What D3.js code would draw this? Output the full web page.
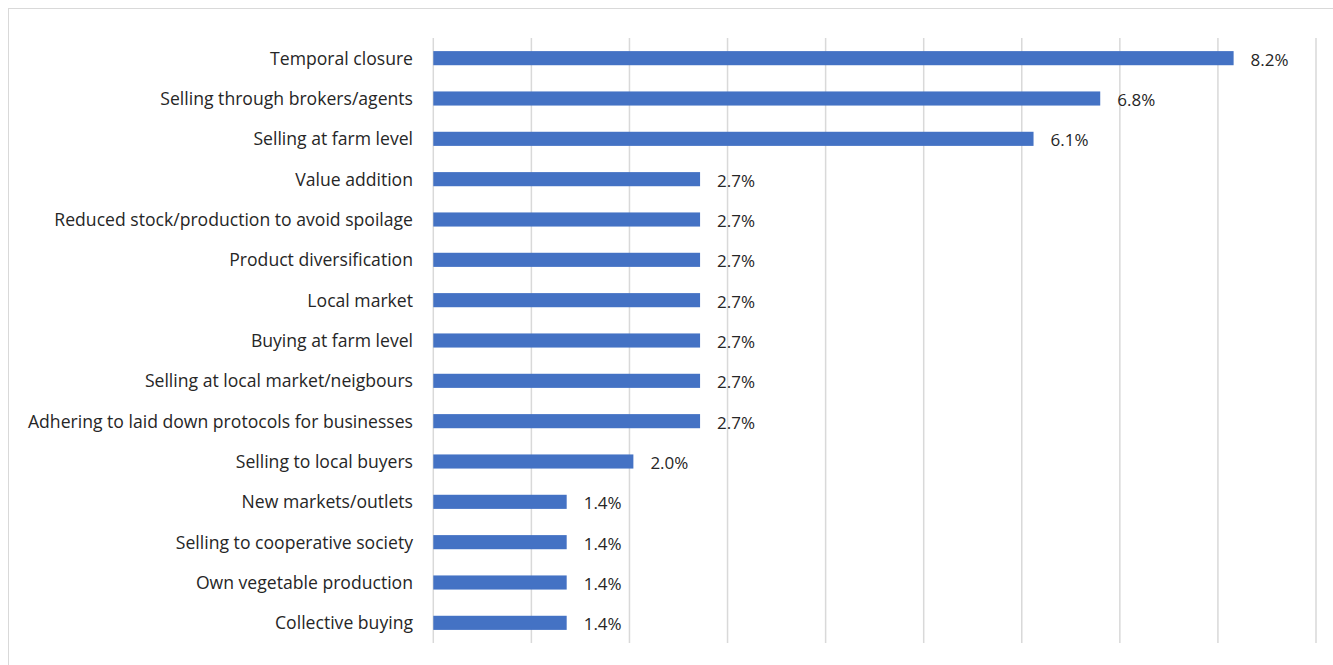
<!DOCTYPE html>
<html>
<head>
<meta charset="utf-8">
<script src="https://cdn.jsdelivr.net/npm/d3@7"></script>
<style>
  html, body { margin: 0; padding: 0; background: #fff; }
  svg { display: block; }
  text { font-family: "Open Sans", "Noto Sans", sans-serif; fill: #262626; }
</style>
</head>
<body>
<svg id="chart" width="1333" height="665"></svg>
<script>
// Coping strategies, share of respondents (%)
const categories = [
  "Temporal closure",
  "Selling through brokers/agents",
  "Selling at farm level",
  "Value addition",
  "Reduced stock/production to avoid spoilage",
  "Product diversification",
  "Local market",
  "Buying at farm level",
  "Selling at local market/neigbours",
  "Adhering to laid down protocols for businesses",
  "Selling to local buyers",
  "New markets/outlets",
  "Selling to cooperative society",
  "Own vegetable production",
  "Collective buying"
];
const values = [8.16, 6.80, 6.12, 2.72, 2.72, 2.72, 2.72, 2.72, 2.72, 2.72, 2.04, 1.36, 1.36, 1.36, 1.36];
const tickValues = [0, 1, 2, 3, 4, 5, 6, 7, 8, 9];

const svg = d3.select("#chart");
const plot = { left: 433.3, right: 1316, top: 38, bottom: 643 };

// chart frame
svg.append("rect")
  .attr("x", 8.5).attr("y", 8.5)
  .attr("width", 1400).attr("height", 700)
  .attr("fill", "none")
  .attr("stroke", "#d9d9d9")
  .attr("stroke-width", 1);

const x = d3.scaleLinear().domain([0, 9]).range([plot.left, plot.right]);
const y = d3.scaleBand().domain(categories).range([plot.top, plot.bottom]).paddingInner(0.65).paddingOuter(0.325);

// vertical gridlines
svg.append("g")
  .selectAll("line")
  .data(tickValues)
  .join("line")
  .attr("x1", d => x(d)).attr("x2", d => x(d))
  .attr("y1", plot.top).attr("y2", plot.bottom)
  .attr("stroke", "#d9d9d9")
  .attr("stroke-width", 1.5);

// bars
svg.append("g")
  .selectAll("rect")
  .data(values)
  .join("rect")
  .attr("x", x(0))
  .attr("y", (d, i) => y(categories[i]))
  .attr("width", d => x(d) - x(0))
  .attr("height", y.bandwidth())
  .attr("fill", "#4472c4");

// value labels
svg.append("g")
  .selectAll("text")
  .data(values)
  .join("text")
  .attr("x", d => x(d) + 17)
  .attr("y", (d, i) => y(categories[i]) + y.bandwidth() / 2 + 1.5)
  .attr("dy", "0.36em")
  .attr("font-size", 17)
  .text(d => d.toFixed(1) + "%");

// category axis labels
svg.append("g")
  .selectAll("text")
  .data(categories)
  .join("text")
  .attr("x", 413)
  .attr("y", d => y(d) + y.bandwidth() / 2)
  .attr("dy", "0.36em")
  .attr("text-anchor", "end")
  .attr("font-size", 17.6)
  .text(d => d);
</script>
</body>
</html>
